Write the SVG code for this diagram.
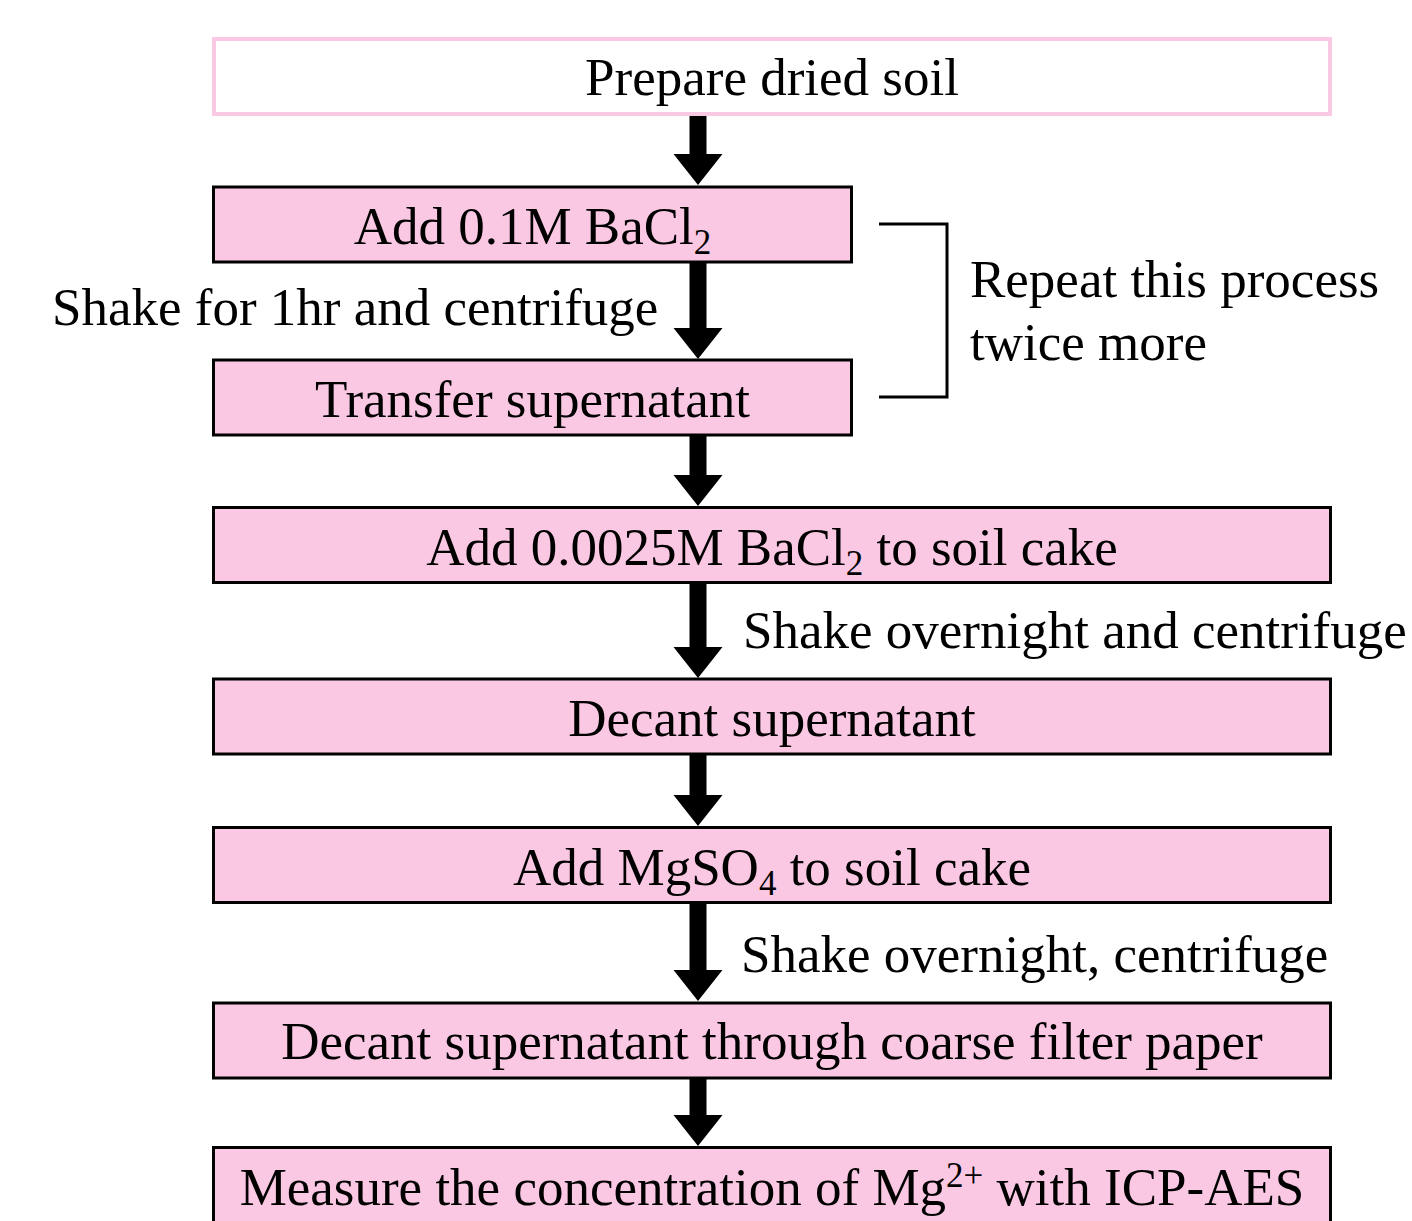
<svg xmlns="http://www.w3.org/2000/svg" width="1412" height="1221" viewBox="0 0 1412 1221">
<style>
.box{fill:#fbc8e3;stroke:#000;stroke-width:3}
.top{fill:#fff;stroke:#fbc8e3;stroke-width:4}
text{font-family:"Liberation Serif","Times New Roman",serif;font-size:53px;fill:#000}
.c{text-anchor:middle}
.arrow{fill:#000}
.br{fill:none;stroke:#000;stroke-width:3}
</style>
<rect width="1412" height="1221" fill="#fff"/>
<g id="connectors">
<polygon class="arrow" points="689.5,114 706.5,114 706.5,154 722.5,154 698,185 673.5,154 689.5,154"/>
<polygon class="arrow" points="689.5,262 706.5,262 706.5,328 722.5,328 698,359 673.5,328 689.5,328"/>
<polygon class="arrow" points="689.5,435 706.5,435 706.5,475 722.5,475 698,506 673.5,475 689.5,475"/>
<polygon class="arrow" points="689.5,582 706.5,582 706.5,647 722.5,647 698,678 673.5,647 689.5,647"/>
<polygon class="arrow" points="689.5,754 706.5,754 706.5,795 722.5,795 698,826 673.5,795 689.5,795"/>
<polygon class="arrow" points="689.5,903 706.5,903 706.5,970 722.5,970 698,1001 673.5,970 689.5,970"/>
<polygon class="arrow" points="689.5,1078 706.5,1078 706.5,1115 722.5,1115 698,1146 673.5,1115 689.5,1115"/>
<polyline class="br" points="879,224 947,224 947,397 879,397"/>
</g>
<g id="n1"><rect class="top" x="214" y="39" width="1116" height="75"/><text class="c" x="772" y="95">Prepare dried soil</text></g>
<g id="n2"><rect class="box" x="213.5" y="187" width="638" height="75"/><text class="c" x="532.5" y="244">Add 0.1M BaCl<tspan font-size="35" dy="10">2</tspan></text></g>
<g id="n3"><rect class="box" x="213.5" y="360" width="638" height="75"/><text class="c" x="532.5" y="417">Transfer supernatant</text></g>
<g id="n4"><rect class="box" x="213.5" y="507.5" width="1117" height="75"/><text class="c" x="772" y="565">Add 0.0025M BaCl<tspan font-size="35" dy="10">2</tspan><tspan dy="-10"> to soil cake</tspan></text></g>
<g id="n5"><rect class="box" x="213.5" y="679" width="1117" height="75"/><text class="c" x="772" y="736">Decant supernatant</text></g>
<g id="n6"><rect class="box" x="213.5" y="827.5" width="1117" height="75"/><text class="c" x="772" y="885">Add MgSO<tspan font-size="35" dy="10">4</tspan><tspan dy="-10"> to soil cake</tspan></text></g>
<g id="n7"><rect class="box" x="213.5" y="1003" width="1117" height="75"/><text class="c" x="772" y="1059">Decant supernatant through coarse filter paper</text></g>
<g id="n8"><rect class="box" x="213.5" y="1147.5" width="1117" height="80"/><text class="c" x="772" y="1205">Measure the concentration of Mg<tspan font-size="35" dy="-18">2+</tspan><tspan dy="18"> with ICP-AES</tspan></text></g>
<g id="labels">
<text x="52" y="325">Shake for 1hr and centrifuge</text>
<text x="970" y="297">Repeat this process</text>
<text x="970" y="360">twice more</text>
<text x="743" y="648">Shake overnight and centrifuge</text>
<text x="741" y="972">Shake overnight, centrifuge</text>
</g>
</svg>
